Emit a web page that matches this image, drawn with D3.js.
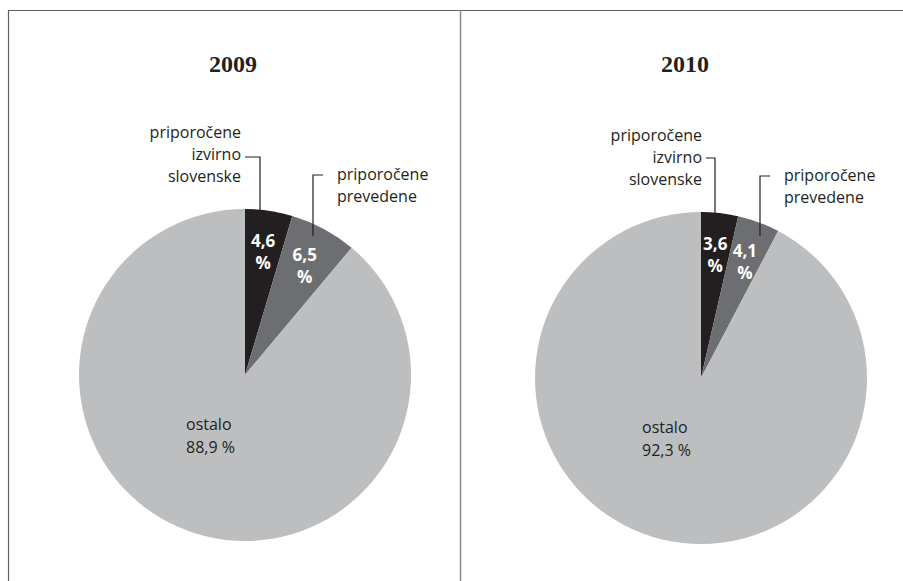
<!DOCTYPE html>
<html>
<head>
<meta charset="utf-8">
<script src="https://cdn.jsdelivr.net/npm/d3@7"></script>
<style>
  body { margin: 0; background: #fff; }
  text { font-family: "Open Sans", sans-serif; }
</style>
</head>
<body>
<script>
// Data
const years = ["2009", "2010"];
const categories = ["priporočene izvirno slovenske", "priporočene prevedene", "ostalo"];
const values2009 = [4.6, 6.5, 88.9];
const values2010 = [3.6, 4.1, 92.3];
const seriesValues = [values2009, values2010];
const colors = ["#231f20", "#6d6e71", "#bcbec0"];

const width = 903, height = 581;
const svg = d3.select("body").append("svg")
  .attr("width", width)
  .attr("height", height);

// frame lines
svg.append("line").attr("x1", 8).attr("x2", width).attr("y1", 10.5).attr("y2", 10.5)
  .attr("stroke", "#606060").attr("stroke-width", 1.2);
svg.append("line").attr("x1", 8.5).attr("x2", 8.5).attr("y1", 10).attr("y2", height)
  .attr("stroke", "#606060").attr("stroke-width", 1.2);
svg.append("line").attr("x1", 460.5).attr("x2", 460.5).attr("y1", 10).attr("y2", height)
  .attr("stroke", "#8a8a8a").attr("stroke-width", 1.5);

const fmt = v => String(v).replace(".", ",");

const radius = 166;
const pie = d3.pie().sort(null).value(d => d);
const arc = d3.arc().innerRadius(0).outerRadius(radius);
const labelArc = d3.arc().innerRadius(radius * 0.76).outerRadius(radius * 0.76);

// per-panel layout (centres, callout placement)
const panels = [
  {cx: 245, cy: 375, titleX: 233,
   lead1: {x: 15, top: -218, end: -164, textX: -4},
   lead2: {x: 68, top: -200, end: -139, textX: 24}},
  {cx: 701, cy: 378, titleX: 685,
   lead1: {x: 14, top: -220, end: -164, textX: 1},
   lead2: {x: 59, top: -202, end: -142, textX: 84}}
];

years.forEach((year, i) => {
  const p = panels[i];
  const g = svg.append("g").attr("transform", `translate(${p.cx},${p.cy})`);
  const arcs = pie(seriesValues[i]);

  svg.append("text")
    .attr("x", p.titleX).attr("y", 72)
    .attr("text-anchor", "middle")
    .style("font-family", "'Liberation Serif', 'Times New Roman', serif")
    .style("font-weight", "bold")
    .style("font-size", "24px")
    .attr("fill", "#231f20")
    .text(year);

  g.selectAll("path.slice")
    .data(arcs)
    .join("path")
    .attr("class", "slice")
    .attr("d", arc)
    .attr("fill", (d, j) => colors[j]);

  // white value labels in the two small slices
  arcs.slice(0, 2).forEach(d => {
    const [x, y] = labelArc.centroid(d);
    const t = g.append("text")
      .attr("text-anchor", "middle")
      .attr("fill", "#fff")
      .style("font-weight", "bold")
      .style("font-size", "17px");
    t.append("tspan").attr("x", x).attr("y", y - 3).text(fmt(d.data));
    t.append("tspan").attr("x", x).attr("y", y + 19).text("%");
  });

  // "ostalo" label
  const o = g.append("text").attr("fill", "#231f20").style("font-size", "16px");
  o.append("tspan").attr("x", -59).attr("y", 55).text("ostalo");
  o.append("tspan").attr("x", -59).attr("y", 78).text(fmt(seriesValues[i][2]) + " %");

  // callout 1: priporočene izvirno slovenske
  const l1 = p.lead1;
  g.append("path")
    .attr("d", `M${l1.textX + 4},${l1.top}H${l1.x}V${l1.end}`)
    .attr("fill", "none").attr("stroke", "#231f20").attr("stroke-width", 1.2);
  const t1 = g.append("text").attr("text-anchor", "end").attr("fill", "#231f20").style("font-size", "16px");
  ["priporočene", "izvirno", "slovenske"].forEach((w, k) => {
    t1.append("tspan").attr("x", l1.textX).attr("y", -237 + k * 22).text(w);
  });

  // callout 2: priporočene prevedene
  const l2 = p.lead2;
  g.append("path")
    .attr("d", `M${l2.x + 10},${l2.top}H${l2.x}V${l2.end}`)
    .attr("fill", "none").attr("stroke", "#231f20").attr("stroke-width", 1.2);
  const t2 = g.append("text").attr("fill", "#231f20").style("font-size", "16px");
  ["priporočene", "prevedene"].forEach((w, k) => {
    t2.append("tspan").attr("x", l2.x + 24).attr("y", l2.top + 5 + k * 22).text(w);
  });
});
</script>
</body>
</html>
